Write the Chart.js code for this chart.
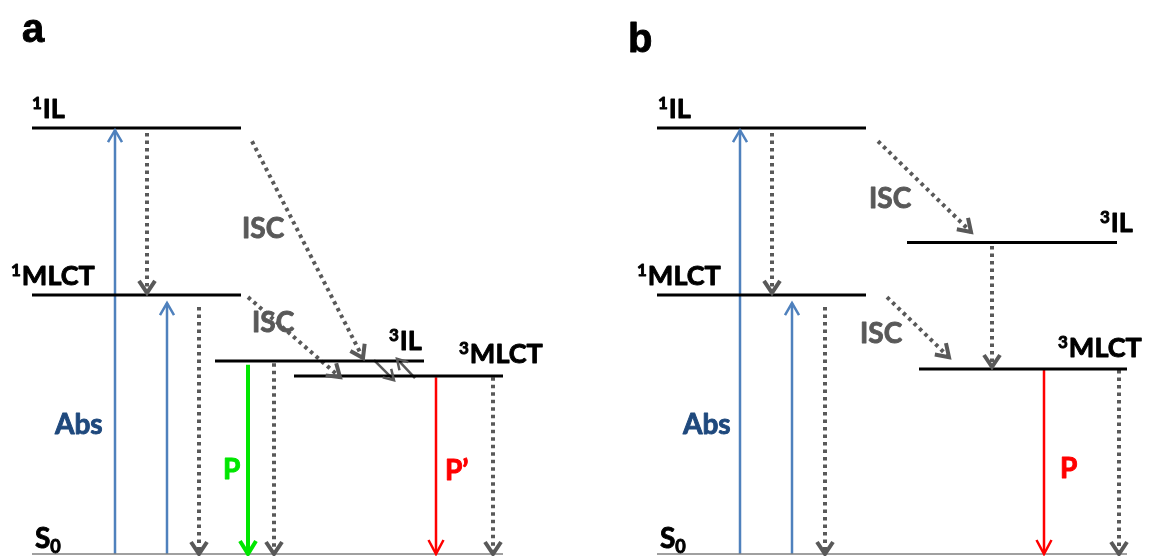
<!DOCTYPE html>
<html>
<head>
<meta charset="utf-8">
<script src="https://cdn.jsdelivr.net/npm/chart.js@4.4.1/dist/chart.umd.min.js"></script>
<style>
  html, body { margin: 0; padding: 0; background: #fff; }
  #wrap { width: 1149px; height: 556px; }
</style>
</head>
<body>
<div id="wrap"><canvas id="myChart" width="1149" height="556"></canvas></div>
<script>
    // energy levels (panel a: 0-3, panel b: 4-7), energy in arbitrary units, S0 = 0
    var levelSup    = ['1', '1', '3', '3', '1', '1', '3', '3'];
    var levelName   = ['IL', 'MLCT', 'IL', 'MLCT', 'IL', 'MLCT', 'IL', 'MLCT'];
    var levelEnergy = [100, 60.8, 45.3, 41.8, 100, 60.8, 73.1, 43.4];
    var levelStart  = [32, 32, 215, 294, 657, 657, 907, 919];
    var levelEnd    = [241, 241, 424, 503, 866, 866, 1117, 1127];
    var levelLabelX = [32, 11, 389, 459, 658, 637, 1100, 1058];
    var levelLabelE = [102.3, 63.1, 47.9, 44.8, 102.3, 63.1, 75.6, 46.2];

    // ground state
    var groundStart = [32, 657];
    var groundEnd   = [503, 1127];
    var groundLabelX = [35, 660];

    // transitions: kind, start (x, E), end (x, E)
    var transKind = ['abs', 'abs', 'dot', 'dot', 'green', 'dot', 'red', 'dot', 'dot', 'dot', 'solid', 'solid',
                     'abs', 'abs', 'dot', 'dot', 'dot', 'dot', 'dot', 'red', 'dot'];
    var transX1 = [115, 167, 147, 199, 248, 274, 436, 493, 252, 248, 374, 415,
                   740, 792, 772, 825, 878, 992, 887, 1044, 1119];
    var transE1 = [0, 0, 98.8, 58.0, 44.4, 44.8, 41.5, 41.5, 96.9, 60.3, 45.5, 41.3,
                   0, 0, 98.8, 58.0, 96.9, 72.3, 60.3, 43.2, 43.2];
    var transX2 = [115, 167, 147, 199, 248, 274, 436, 493, 363, 340, 394, 397,
                   740, 792, 772, 825, 971, 992, 949, 1044, 1119];
    var transE2 = [99.5, 58.9, 61.3, 0, 0, 0, 0, 0, 46.0, 41.5, 40.8, 45.8,
                   99.5, 58.9, 61.3, 0, 75.6, 43.9, 46.2, 0, 0];

    // text annotations
    var noteText = ['ISC', 'ISC', 'ISC', 'ISC', 'Abs', 'Abs', 'P', 'P\u2019', 'P'];
    var noteKind = ['isc', 'isc', 'isc', 'isc', 'abs', 'abs', 'green', 'red', 'red'];
    var noteX = [242, 252, 869, 860, 55, 683, 223, 445, 1060];
    var noteE = [74.2, 52.1, 81.2, 49.5, 28.2, 28.2, 17.6, 17.4, 17.8];

    var panelText = ['a', 'b'];
    var panelX = [22, 628];
    var panelE = [120.2, 117.8];

    var styles = {
        abs:   { color: '#4f81bd', width: 2.5, dash: [], head: [12, 7] },
        dot:   { color: '#595959', width: 4, dash: [3.5, 4], head: [12, 8] },
        green: { color: '#00e600', width: 4, dash: [], head: [13, 8] },
        red:   { color: '#ff0000', width: 2.5, dash: [], head: [14, 7.5] },
        solid: { color: '#595959', width: 2.5, dash: [], head: [10, 6] }
    };
    var textColors = { isc: '#595959', abs: '#1f497d', green: '#00e600', red: '#ff0000' };

    function boldText(c, txt, x, y, color) {
        c.fillStyle = color;
        c.strokeStyle = color;
        c.lineWidth = 0.9;
        c.lineJoin = 'round';
        c.fillText(txt, x, y);
        c.strokeText(txt, x, y);
    }

    function loadChart() {
        var ctx = document.getElementById('myChart').getContext('2d');
        var datasets = [];

        for (var i = 0; i < levelEnergy.length; i++) {
            datasets.push({
                data: [{x: levelStart[i], y: levelEnergy[i]}, {x: levelEnd[i], y: levelEnergy[i]}],
                borderColor: '#000', borderWidth: 3, showLine: true, pointRadius: 0, fill: false
            });
        }
        for (var g = 0; g < groundStart.length; g++) {
            datasets.push({
                data: [{x: groundStart[g], y: 0}, {x: groundEnd[g], y: 0}],
                borderColor: '#808080', borderWidth: 1.5, showLine: true, pointRadius: 0, fill: false
            });
        }
        for (var t = 0; t < transKind.length; t++) {
            var s = styles[transKind[t]];
            datasets.push({
                data: [{x: transX1[t], y: transE1[t]}, {x: transX2[t], y: transE2[t]}],
                borderColor: s.color, borderWidth: s.width, borderDash: s.dash,
                borderCapStyle: 'butt', showLine: true, pointRadius: 0, fill: false
            });
        }

        var diagramPlugin = {
            id: 'diagram',
            afterDatasetsDraw: function(chart) {
                var c = chart.ctx, xs = chart.scales.x, ys = chart.scales.y;
                c.save();
                // arrowheads
                for (var t = 0; t < transKind.length; t++) {
                    var s = styles[transKind[t]];
                    var x1 = xs.getPixelForValue(transX1[t]), y1 = ys.getPixelForValue(transE1[t]);
                    var x2 = xs.getPixelForValue(transX2[t]), y2 = ys.getPixelForValue(transE2[t]);
                    var a = Math.atan2(y2 - y1, x2 - x1);
                    var len = s.head[0], hw = s.head[1];
                    var bx = x2 - len * Math.cos(a), by = y2 - len * Math.sin(a);
                    var px = -Math.sin(a) * hw, py = Math.cos(a) * hw;
                    c.strokeStyle = s.color;
                    c.lineWidth = s.width;
                    c.setLineDash([]);
                    c.lineJoin = 'miter';
                    c.lineCap = 'butt';
                    c.beginPath();
                    c.moveTo(bx + px, by + py);
                    c.lineTo(x2, y2);
                    c.lineTo(bx - px, by - py);
                    c.stroke();
                }
                c.textBaseline = 'alphabetic';
                c.textAlign = 'left';
                // level labels
                for (var i = 0; i < levelName.length; i++) {
                    var lx = xs.getPixelForValue(levelLabelX[i]), ly = ys.getPixelForValue(levelLabelE[i]);
                    c.font = 'bold 17px Lato';
                    boldText(c, levelSup[i], lx, ly - 9, '#000');
                    var w = c.measureText(levelSup[i]).width;
                    c.font = 'bold 27px Lato';
                    boldText(c, levelName[i], lx + w + 1, ly, '#000');
                }
                // S0 labels
                for (var g = 0; g < groundLabelX.length; g++) {
                    var gx = xs.getPixelForValue(groundLabelX[g]), gy = ys.getPixelForValue(1.4);
                    c.font = 'bold 28px Lato';
                    boldText(c, 'S', gx, gy, '#000');
                    var sw = c.measureText('S').width;
                    c.font = 'bold 18px Lato';
                    boldText(c, '0', gx + sw, gy + 5, '#000');
                }
                // annotations
                for (var n = 0; n < noteText.length; n++) {
                    c.font = 'bold 28px Lato';
                    boldText(c, noteText[n], xs.getPixelForValue(noteX[n]), ys.getPixelForValue(noteE[n]), textColors[noteKind[n]]);
                }
                // panel letters
                for (var p = 0; p < panelText.length; p++) {
                    c.font = 'bold 40px "Liberation Sans"';
                    boldText(c, panelText[p], xs.getPixelForValue(panelX[p]), ys.getPixelForValue(panelE[p]), '#000');
                }
                c.restore();
            }
        };

        var myChart = new Chart(ctx, {
            type: 'scatter',
            data: { datasets: datasets },
            options: {
                responsive: false,
                animation: false,
                layout: { padding: 0 },
                scales: {
                    x: { type: 'linear', min: 0, max: 1149, display: false },
                    y: { type: 'linear', min: -0.47, max: 130.05, display: false }
                },
                plugins: {
                    legend: { display: false },
                    tooltip: { enabled: false }
                }
            },
            plugins: [diagramPlugin]
        });
    }

    loadChart();
</script>
</body>
</html>
